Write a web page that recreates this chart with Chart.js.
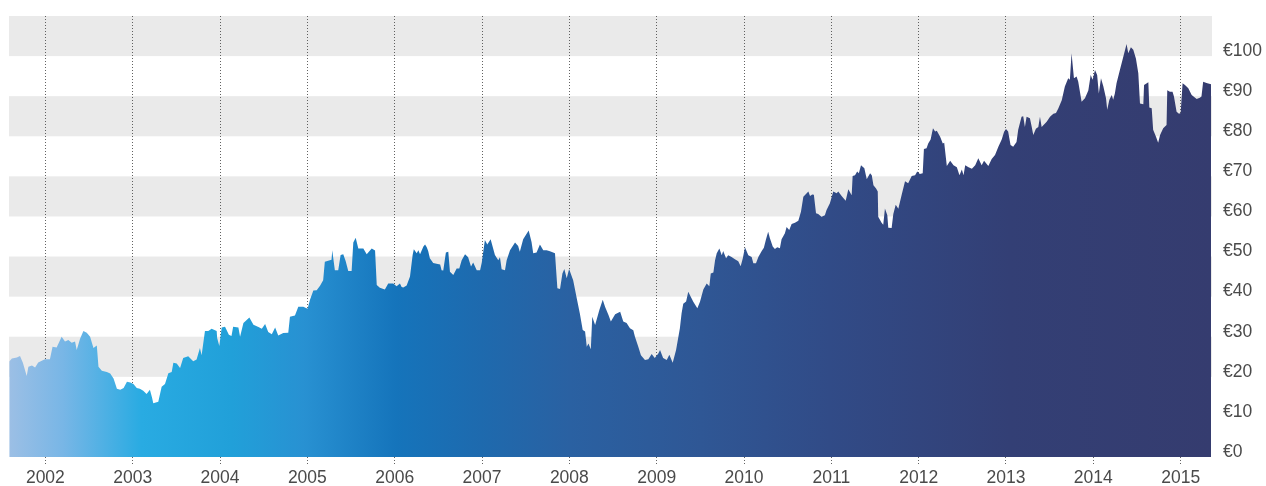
<!DOCTYPE html>
<html>
<head>
<meta charset="utf-8">
<script src="https://cdn.jsdelivr.net/npm/chart.js@4.4.1/dist/chart.umd.min.js"></script>
<style>
  html, body { margin: 0; padding: 0; background: #fff; }
  #wrap { width: 1266px; height: 486px; }
</style>
</head>
<body>
<div id="wrap"><canvas id="koers" width="1266" height="486"></canvas></div>
<script>
// koersverloop
var dates = [
  '2001-08-03','2001-08-14','2001-09-04','2001-09-17','2001-09-29','2001-10-15','2001-10-22','2001-11-06','2001-11-19','2001-12-02','2001-12-17','2001-12-30',
  '2002-01-20','2002-01-31','2002-02-17','2002-03-10','2002-03-24','2002-04-07','2002-04-21','2002-05-05','2002-05-12','2002-05-26','2002-06-09','2002-06-23',
  '2002-07-07','2002-07-21','2002-08-04','2002-08-11','2002-08-25','2002-09-15','2002-09-29','2002-10-13','2002-10-27','2002-11-10','2002-11-24','2002-12-08','2002-12-22',
  '2003-01-04','2003-01-18','2003-01-31','2003-02-14','2003-02-28','2003-03-14','2003-03-23','2003-03-28','2003-04-18','2003-05-02','2003-05-16','2003-05-30',
  '2003-06-13','2003-06-20','2003-07-04','2003-07-18','2003-07-31','2003-08-21','2003-09-11','2003-09-25','2003-10-09','2003-10-16','2003-10-30','2003-11-13',
  '2003-11-27','2003-12-18','2003-12-20','2003-12-29',
  '2004-01-08','2004-01-22','2004-02-07','2004-02-18','2004-02-25','2004-03-18','2004-03-25','2004-04-08','2004-05-03','2004-05-20','2004-06-10','2004-06-24',
  '2004-07-08','2004-07-21','2004-08-05','2004-08-19','2004-09-01','2004-09-22','2004-10-13','2004-10-20','2004-11-10','2004-11-24','2004-12-15',
  '2005-01-02','2005-01-12','2005-01-26','2005-02-09','2005-02-23','2005-03-08','2005-03-15','2005-04-12','2005-04-15','2005-04-26','2005-05-10','2005-05-20',
  '2005-05-31','2005-06-10','2005-06-21','2005-07-05','2005-07-12','2005-07-22','2005-08-02','2005-08-23','2005-09-06','2005-09-27','2005-10-11','2005-10-18',
  '2005-10-31','2005-11-21','2005-12-05','2005-12-26',
  '2006-01-09','2006-01-23','2006-01-30','2006-02-06','2006-02-20','2006-03-06','2006-03-17','2006-03-22','2006-04-03','2006-04-10','2006-04-17','2006-05-01',
  '2006-05-08','2006-05-15','2006-05-21','2006-05-28','2006-06-11','2006-06-25','2006-07-10','2006-07-16','2006-07-23','2006-08-03','2006-08-13','2006-08-20',
  '2006-09-03','2006-09-17','2006-09-28','2006-10-08','2006-10-22','2006-11-04','2006-11-16','2006-11-25','2006-12-10','2006-12-24','2006-12-31',
  '2007-01-13','2007-01-23','2007-02-06','2007-02-24','2007-03-10','2007-03-17','2007-03-24','2007-04-07','2007-04-14','2007-04-28','2007-05-19','2007-06-01',
  '2007-06-08','2007-06-22','2007-07-15','2007-07-27','2007-08-03','2007-08-17','2007-08-31','2007-09-14','2007-09-28','2007-10-12','2007-11-02','2007-11-12',
  '2007-11-23','2007-12-03','2007-12-11','2007-12-21','2007-12-31',
  '2008-01-17','2008-02-01','2008-02-14','2008-02-26','2008-03-07','2008-03-14','2008-03-21','2008-03-31','2008-04-06','2008-04-18','2008-05-06','2008-05-20',
  '2008-05-30','2008-06-13','2008-06-23','2008-07-11','2008-08-01','2008-08-14','2008-08-28','2008-09-11','2008-09-25','2008-10-02','2008-10-16','2008-10-27',
  '2008-11-13','2008-11-27','2008-12-11','2008-12-24',
  '2009-01-08','2009-01-15','2009-01-28','2009-02-12','2009-02-23','2009-03-09','2009-03-23','2009-04-08','2009-04-15','2009-04-22','2009-05-04','2009-05-13',
  '2009-06-03','2009-06-20','2009-07-01','2009-07-15','2009-07-29','2009-08-09','2009-08-15','2009-08-26','2009-09-02','2009-09-09','2009-09-20','2009-09-30',
  '2009-10-06','2009-10-18','2009-10-27','2009-11-10','2009-11-24','2009-12-08','2009-12-18','2009-12-27',
  '2010-01-05','2010-01-19','2010-02-02','2010-02-09','2010-02-20','2010-03-02','2010-03-16','2010-03-25','2010-04-03','2010-04-12','2010-04-19','2010-05-01',
  '2010-05-10','2010-05-20','2010-05-31','2010-06-07','2010-06-21','2010-06-28','2010-07-09','2010-07-19','2010-08-02','2010-08-16','2010-08-27','2010-09-06',
  '2010-09-20','2010-09-27','2010-10-04','2010-10-13','2010-10-20','2010-10-29','2010-11-07','2010-11-21','2010-12-05','2010-12-12','2010-12-26',
  '2011-01-09','2011-01-23','2011-01-30','2011-02-13','2011-02-20','2011-03-02','2011-03-13','2011-03-27','2011-03-31','2011-04-10','2011-04-19','2011-04-26',
  '2011-05-05','2011-05-19','2011-05-29','2011-06-12','2011-06-19','2011-06-26','2011-07-07','2011-07-14','2011-07-16','2011-07-30','2011-08-06','2011-08-13',
  '2011-08-23','2011-08-27','2011-09-10','2011-09-17','2011-09-27','2011-10-08','2011-10-22','2011-11-05','2011-11-18','2011-12-03','2011-12-17','2011-12-26',
  '2012-01-06','2012-01-18','2012-01-23','2012-02-03','2012-02-10','2012-02-20','2012-03-01','2012-03-10','2012-03-17','2012-03-31','2012-04-11','2012-04-17',
  '2012-04-28','2012-05-12','2012-05-26','2012-06-09','2012-06-20','2012-06-30','2012-07-07','2012-07-14','2012-07-28','2012-08-11','2012-08-25','2012-09-07',
  '2012-09-21','2012-10-01','2012-10-19','2012-11-02','2012-11-16','2012-11-30','2012-12-14','2012-12-24',
  '2013-01-01','2013-01-10','2013-01-20','2013-01-31','2013-02-14','2013-02-21','2013-03-07','2013-03-14','2013-03-21','2013-03-28','2013-04-11','2013-04-18',
  '2013-04-25','2013-05-06','2013-05-16','2013-05-23','2013-05-30','2013-06-20','2013-07-04','2013-07-18','2013-07-29','2013-08-08','2013-08-22','2013-09-04',
  '2013-09-18','2013-09-25','2013-10-02','2013-10-12','2013-10-23','2013-10-30','2013-11-06','2013-11-13','2013-11-27','2013-12-11','2013-12-21','2013-12-29',
  '2014-01-08','2014-01-17','2014-01-24','2014-02-02','2014-02-12','2014-02-23','2014-02-28','2014-03-09','2014-03-19','2014-03-25','2014-04-01','2014-04-08',
  '2014-04-22','2014-05-06','2014-05-20','2014-05-27','2014-06-07','2014-06-17','2014-06-28','2014-07-08','2014-07-15','2014-07-29','2014-08-01','2014-08-19',
  '2014-08-23','2014-09-02','2014-09-08','2014-09-20','2014-09-29','2014-10-07','2014-10-20','2014-11-03','2014-11-06','2014-11-17','2014-11-28','2014-12-04',
  '2014-12-15','2014-12-25',
  '2015-01-01','2015-01-09','2015-01-19','2015-02-02','2015-02-16','2015-03-09','2015-03-22','2015-03-29','2015-04-05','2015-04-19','2015-05-08'
];
var prices = [
  23.8,24.6,24.8,25.2,23.5,20.2,22.5,22.8,22.3,23.6,24.0,24.4,
  24.4,27.5,27.3,30.0,28.8,29.2,28.5,28.8,26.7,29.5,31.4,31.0,
  30.0,27.2,27.8,22.5,21.5,21.2,20.8,19.6,17.0,16.8,17.2,18.8,18.6,
  18.2,17.2,17.0,16.5,15.7,16.8,14.8,13.4,13.8,17.5,18.2,20.9,
  21.2,23.5,23.3,22.2,24.7,25.1,23.9,24.3,27.2,25.4,31.4,31.4,
  32.0,31.4,29.7,27.7,
  32.3,32.5,30.5,30.2,32.5,32.3,30.0,33.4,34.8,33.0,32.4,32.0,
  33.2,31.2,30.6,32.3,30.3,30.9,31.0,35.0,35.3,37.5,37.5,
  37.0,39.2,41.5,41.6,42.7,44.1,48.7,49.2,51.6,46.6,46.6,50.4,
  50.6,48.9,46.4,46.4,53.5,54.7,52.0,52.0,50.6,52.0,51.5,42.9,
  42.2,41.8,43.3,43.3,
  42.6,43.3,42.4,42.3,42.8,45.0,50.4,51.8,50.8,51.6,50.6,52.5,
  53.0,52.3,51.4,49.6,48.4,48.2,48.0,46.6,46.5,51.0,51.2,46.2,
  45.4,47.0,47.0,49.1,50.6,49.8,47.5,48.5,46.6,46.6,48.5,
  54.1,53.0,54.3,50.4,49.1,49.8,46.8,46.6,49.1,51.6,53.5,52.6,
  51.2,54.3,56.5,53.6,50.8,51.0,53.0,51.6,51.6,51.3,50.8,42.1,
  41.9,45.8,46.9,44.6,46.9,
  44.1,39.6,35.8,31.7,31.3,27.5,28.3,26.9,35.0,32.9,36.7,39.2,
  37.4,35.4,33.8,35.6,36.2,33.8,33.4,32.1,31.6,30.0,27.5,25.4,
  24.2,24.4,25.7,24.7,
  25.8,26.7,24.7,24.2,25.5,23.5,26.7,32.1,35.8,38.2,38.8,41.2,
  38.7,37.1,38.7,41.8,43.3,42.6,45.8,46.0,49.1,50.8,52.0,50.3,
  51.4,49.6,50.3,49.9,49.3,48.8,47.6,49.6,
  52.3,50.3,49.9,48.3,48.3,49.9,51.4,52.2,54.3,56.2,54.6,52.5,
  51.9,52.3,52.1,54.3,55.8,57.4,56.6,58.1,58.4,58.9,61.2,64.9,
  65.8,66.2,65.1,65.5,65.4,60.8,60.6,59.9,60.3,61.6,63.3,
  66.2,65.8,66.2,65.1,64.6,63.9,66.8,65.3,70.1,70.3,71.2,70.8,
  72.8,72.0,69.3,70.8,70.3,67.8,67.0,66.2,59.9,58.4,57.9,62.0,
  60.3,57.2,57.1,60.6,62.9,61.9,65.4,68.8,68.3,70.1,70.3,71.2,
  70.6,70.8,76.8,77.0,78.2,79.2,82.0,81.2,81.4,79.9,78.2,78.4,
  72.6,73.9,72.8,72.3,70.3,71.7,70.3,72.8,72.3,71.9,72.8,74.5,
  72.8,73.9,72.6,74.3,75.3,77.4,79.2,81.1,
  81.8,81.2,77.8,77.4,78.6,81.6,84.9,85.0,82.3,84.9,84.5,82.5,
  80.3,81.9,82.3,84.9,82.3,83.6,84.9,85.6,85.8,87.0,89.0,92.4,
  94.5,94.1,100.7,94.5,94.9,93.6,91.1,88.6,89.5,91.4,95.3,94.1,
  96.5,95.3,90.7,94.5,92.4,89.5,86.6,89.1,90.3,89.1,90.7,93.2,
  96.5,99.8,103.0,100.7,102.2,101.6,99.4,95.7,88.2,88.0,92.8,93.5,
  87.2,87.0,81.6,79.9,78.4,80.3,82.0,82.8,91.5,91.1,91.1,89.9,
  86.1,85.6,
  85.8,93.2,92.8,92.0,90.3,89.3,89.6,89.9,93.6,93.3,93.0
];
var xStart = '2001-08-02';
var xEnd = '2015-05-12';
var yearTicks = [2002, 2003, 2004, 2005, 2006, 2007, 2008, 2009, 2010, 2011, 2012, 2013, 2014, 2015];
var yearLabels = ['2002', '2003', '2004', '2005', '2006', '2007', '2008', '2009', '2010', '2011', '2012', '2013', '2014', '2015'];
var euroTicks = [0, 10, 20, 30, 40, 50, 60, 70, 80, 90, 100];
var greyBands = [[20, 30], [40, 50], [60, 70], [80, 90], [100, 110]];

// datum -> jaartal met fractie, zodat de lineaire as per jaar klopt
function naarJaar(s) {
    var p = s.split('-');
    var j = +p[0];
    var t = Date.UTC(j, +p[1] - 1, +p[2]);
    var a = Date.UTC(j, 0, 1), b = Date.UTC(j + 1, 0, 1);
    return j + (t - a) / (b - a);
}

function maakVerloop(context) {
    var chart = context.chart;
    var area = chart.chartArea;
    if (!area) return '#2a62a2';
    var g = chart.ctx.createLinearGradient(area.left, 0, area.right, 0);
    g.addColorStop(0, '#9cbfe5');
    g.addColorStop(0.045, '#78b6e6');
    g.addColorStop(0.11, '#29abe2');
    g.addColorStop(0.185, '#21a0d9');
    g.addColorStop(0.245, '#2891d2');
    g.addColorStop(0.322, '#1574bb');
    g.addColorStop(0.392, '#1e6aae');
    g.addColorStop(0.466, '#2a61a2');
    g.addColorStop(0.575, '#2f5795');
    g.addColorStop(0.682, '#314b87');
    g.addColorStop(0.832, '#333f75');
    g.addColorStop(1, '#353c6f');
    return g;
}

// grijze banden achter de grafiek
var bandenPlugin = {
    id: 'banden',
    beforeDraw: function (chart) {
        var ctx = chart.ctx, area = chart.chartArea, y = chart.scales.y;
        ctx.save();
        ctx.fillStyle = '#eaeaea';
        greyBands.forEach(function (b) {
            var top = y.getPixelForValue(b[1]);
            var bot = y.getPixelForValue(b[0]);
            ctx.fillRect(area.left, top, area.right - area.left, bot - top);
        });
        ctx.restore();
    }
};

var punten = dates.map(function (d, i) {
    return { x: naarJaar(d), y: prices[i] };
});

var labelFont = { family: "'Liberation Sans', Arial, sans-serif", size: 17.5 };

var ctx = document.getElementById('koers').getContext('2d');
var myChart = new Chart(ctx, {
    type: 'line',
    data: {
        datasets: [{
            label: 'Koers',
            data: punten,
            fill: 'origin',
            backgroundColor: maakVerloop,
            borderWidth: 0,
            pointRadius: 0,
            tension: 0
        }]
    },
    options: {
        responsive: false,
        animation: false,
        devicePixelRatio: 1,
        layout: { padding: { left: 9, top: 16, right: 0, bottom: 0 } },
        plugins: {
            legend: { display: false },
            tooltip: { enabled: false }
        },
        scales: {
            x: {
                type: 'linear',
                min: naarJaar(xStart),
                max: naarJaar(xEnd),
                afterBuildTicks: function (scale) {
                    scale.ticks = yearTicks.map(function (v) { return { value: v }; });
                },
                afterFit: function (scale) {
                    scale.height = 29;
                    scale.paddingLeft = 0;
                    scale.paddingRight = 0;
                },
                grid: {
                    color: 'rgba(70,70,70,0.85)',
                    lineWidth: 1,
                    tickLength: 9,
                    tickBorderDash: [1, 2],
                    tickColor: 'rgba(70,70,70,0.85)'
                },
                border: { display: false, dash: [1, 2] },
                ticks: {
                    autoSkip: false,
                    maxRotation: 0,
                    padding: 2,
                    color: '#4a4a4a',
                    font: labelFont,
                    callback: function (value, index) {
                        return yearLabels[index];
                    }
                }
            },
            y: {
                type: 'linear',
                position: 'right',
                min: 0,
                max: 110,
                afterBuildTicks: function (scale) {
                    scale.ticks = euroTicks.map(function (v) { return { value: v }; });
                },
                afterFit: function (scale) {
                    scale.width = 54;
                    scale.paddingTop = 0;
                    scale.paddingBottom = 0;
                },
                grid: { display: false, drawTicks: false },
                border: { display: false },
                ticks: {
                    padding: 11,
                    labelOffset: -5,
                    color: '#4a4a4a',
                    font: labelFont,
                    callback: function (value) {
                        return '€' + value;
                    }
                }
            }
        }
    },
    plugins: [bandenPlugin]
});
</script>
</body>
</html>
